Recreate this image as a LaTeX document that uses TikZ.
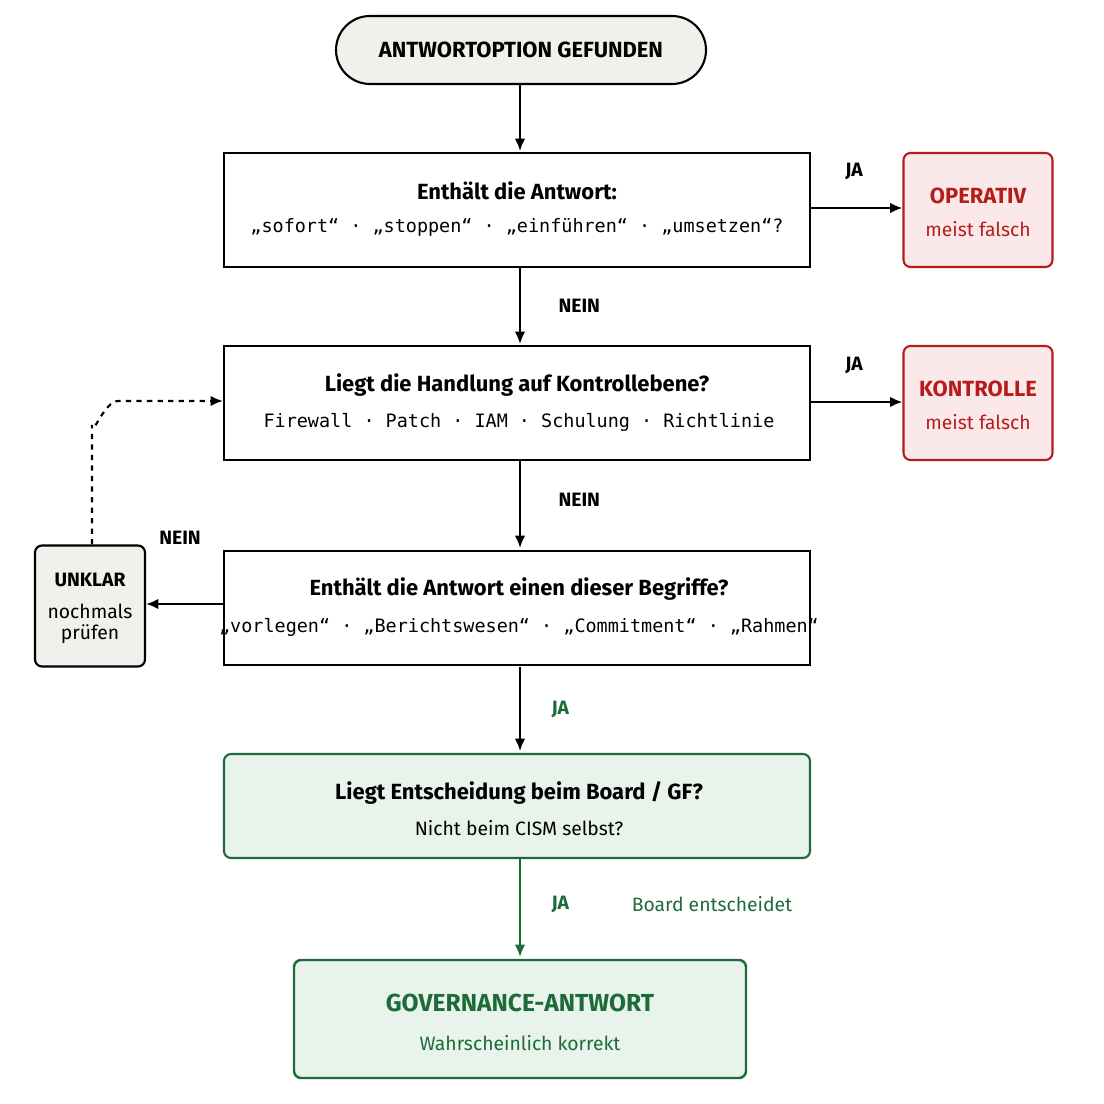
\documentclass[tikz,border=0pt]{standalone}
\usepackage{fontspec}
\setmainfont{Fira Sans}
\newfontfamily\monof{DejaVu Sans Mono}
\usetikzlibrary{arrows.meta}
\definecolor{redc}{HTML}{B71C1C}
\definecolor{redf}{HTML}{FBE9E9}
\definecolor{greenc}{HTML}{1E6B3A}
\definecolor{greenf}{HTML}{E8F3EC}
\definecolor{grayf}{HTML}{F1F0EC}
\begin{document}
\begin{tikzpicture}[x=0.02cm,y=-0.02cm,
  box/.style={draw=black,line width=1.2pt,fill=white,minimum width=586*0.02cm,minimum height=114*0.02cm},
  ttl/.style={font=\fontsize{12.5}{15}\selectfont\bfseries},
  txt/.style={font=\fontsize{11}{14}\selectfont},
  mono/.style={font=\fontsize{10.5}{13}\selectfont\monof},
  arr/.style={-{Latex[length=7pt,width=6pt]},line width=1.2pt},
  lbl/.style={font=\fontsize{11}{14}\selectfont\bfseries}]
\useasboundingbox (0,0) rectangle (1104,1104);
\node[draw,line width=1.2pt,fill=grayf,rounded corners=34*0.02cm,minimum width=370*0.02cm,minimum height=68*0.02cm,ttl] (s) at (521,50) {ANTWORTOPTION GEFUNDEN};
\node[box] (b1) at (517,210) {};
\node[ttl] (b1t) at (517,191) {Enthält die Antwort:};
\node[mono] (b1m) at (517,227) {„sofort“ · „stoppen“ · „einführen“ · „umsetzen“?};
\node[box] (b2) at (517,403) {};
\node[ttl] (b2t) at (517,385) {Liegt die Handlung auf Kontrollebene?};
\node[mono] (b2m) at (519,422) {Firewall · Patch · IAM · Schulung · Richtlinie};
\node[box] (b3) at (517,608) {};
\node[ttl] (b3t) at (519,589) {Enthält die Antwort einen dieser Begriffe?};
\node[mono] (b3m) at (519,627) {„vorlegen“ · „Berichtswesen“ · „Commitment“ · „Rahmen“};
\node[draw=redc,line width=1.2pt,fill=redf,rounded corners=4pt,minimum width=149*0.02cm,minimum height=114*0.02cm] (o) at (978,210) {};
\node[ttl,text=redc] at (978,196) {OPERATIV};
\node[txt,text=redc] at (978,229) {meist falsch};
\node[draw=redc,line width=1.2pt,fill=redf,rounded corners=4pt,minimum width=149*0.02cm,minimum height=114*0.02cm] (k) at (978,403) {};
\node[ttl,text=redc] at (978,389) {KONTROLLE};
\node[txt,text=redc] at (978,422) {meist falsch};
\node[draw,line width=1.2pt,fill=grayf,rounded corners=4pt,minimum width=110*0.02cm,minimum height=121*0.02cm] (u) at (90,606) {};
\node[lbl] at (90,580) {UNKLAR};
\node[txt,align=center] at (90,624) {nochmals\\[-2pt]prüfen};
\node[draw=greenc,line width=1.2pt,fill=greenf,rounded corners=4pt,minimum width=586*0.02cm,minimum height=104*0.02cm] (g) at (517,806) {};
\node[ttl] at (519,793) {Liegt Entscheidung beim Board / GF?};
\node[txt] at (519,828) {Nicht beim CISM selbst?};
\node[draw=greenc,line width=1.4pt,fill=greenf,rounded corners=4pt,minimum width=452*0.02cm,minimum height=118*0.02cm] (gv) at (520,1019) {};
\node[ttl,text=greenc,font=\fontsize{14}{16}\selectfont\bfseries] at (520,1003) {GOVERNANCE-ANTWORT};
\node[txt,text=greenc] at (520,1043) {Wahrscheinlich korrekt};
\draw[arr] (s.south -| 520,0) -- (520,151);
\draw[arr] (520,267) -- (520,344) node[lbl,pos=0.5,right=18pt] {NEIN};
\draw[arr] (520,460) -- (520,548) node[lbl,pos=0.45,right=18pt] {NEIN};
\draw[arr] (520,667) -- (520,751) node[lbl,text=greenc,pos=0.5,right=14pt] {JA};
\draw[arr,draw=greenc] (520,858) -- (520,957) node[lbl,text=greenc,pos=0.47,right=14pt] {JA};
\node[txt,text=greenc] at (712,904) {Board entscheidet};
\draw[arr] (b1.east |- 0,208) -- (o.west |- 0,208) node[lbl,pos=0.47,above=12pt] {JA};
\draw[arr] (b2.east |- 0,402) -- (k.west |- 0,402) node[lbl,pos=0.47,above=12pt] {JA};
\draw[arr] (b3.west |- 0,604) -- (u.east |- 0,604);
\node[lbl] at (180,538) {NEIN};
\draw[arr,dashed] (u.north -| 92,0) -- (92,425) to[out=-90,in=180] (118,401) -- (b2.west |- 0,401);
\end{tikzpicture}
\end{document}
